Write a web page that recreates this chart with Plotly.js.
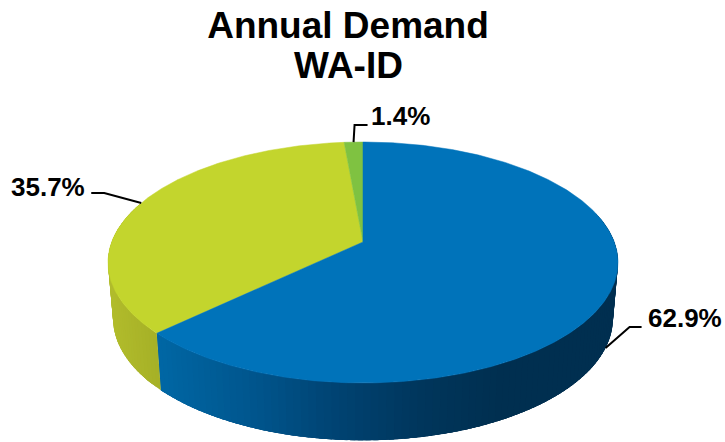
<!DOCTYPE html>
<html><head><meta charset="utf-8">
<script src="https://cdn.plot.ly/plotly-3.0.1.min.js"></script>
<style>html,body{margin:0;padding:0;background:#fff}</style></head>
<body><div id="chart" style="width:725px;height:442px"></div>
<script>
const categories = ["WA", "ID", "Other"];
const shares = [62.9, 35.7, 1.4];
const labels = ["62.9%", "35.7%", "1.4%"];
const faceColors = ["#0073ba", "#c3d52d", "#7fc241"];
const wallStops = [
  [[150,[0,104,166]],[250,[0,86,142]],[330,[0,68,116]],[420,[0,54,92]],[500,[0,47,80]],[620,[0,47,80]]],
  [[105,[178,189,44]],[165,[164,174,38]]],
  [[105,[164,174,38]],[165,[164,174,38]]]
];
const titleLines = ["Annual Demand", "WA-ID"];

// pie projection onto the page's pixel axes
const apex = {x: 363, y: 242}, S = 251.3, A = 117, K = 0.17;
const wallDrop = 56, wallSX = 0.98, wallSY = 1.01;
function topPt(aDeg){
  const a = aDeg*Math.PI/180, u = Math.sin(a), v = Math.cos(a), d = 1 + K*v;
  return [apex.x + S*u/d, apex.y - A*v/d];
}
function bottomPt(aDeg){
  const p = topPt(aDeg);
  return [apex.x + (p[0]-apex.x)*wallSX, apex.y + wallDrop + (p[1]-apex.y)*wallSY];
}
function wallColor(stops, x){
  if (x <= stops[0][0]) return `rgb(${stops[0][1].join(",")})`;
  for (let i=1;i<stops.length;i++){
    if (x <= stops[i][0]){
      const t=(x-stops[i-1][0])/(stops[i][0]-stops[i-1][0]);
      return `rgb(${stops[i-1][1].map((c,k)=>Math.round(c+(stops[i][1][k]-c)*t)).join(",")})`;
    }
  }
  return `rgb(${stops[stops.length-1][1].join(",")})`;
}
const total = shares.reduce((a,b)=>a+b,0);
let acc = 0;
const spans = shares.map(s=>{const r=[acc/total*360,(acc+s)/total*360];acc+=s;return r;});

const traces = [];
// side walls: overlapping strips painted so that the blue goes from dark to light,
// each strip running under the next so no seams show
const arcStart = 75, arcEnd = 290, stripStep = 1.5, stripReach = 4;
spans.forEach((sp,i)=>{
  const from = Math.max(sp[0],arcStart), to = Math.min(sp[1],arcEnd);
  for (let a=from; a<to; a+=stripStep){
    const b = Math.min(a+stripStep+stripReach,to);
    const xs=[],ys=[],xb=[],yb=[];
    for (let t=a;;t=Math.min(t+0.5,b)){
      const p=topPt(t),q=bottomPt(t);
      xs.push(p[0]);ys.push(p[1]);xb.unshift(q[0]);yb.unshift(q[1]);
      if (t>=b) break;
    }
    const col = wallColor(wallStops[i],topPt(a+stripStep/2)[0]);
    traces.push({type:"scatter",mode:"lines",fill:"toself",fillcolor:col,
      x:xs.concat(xb,[xs[0]]),y:ys.concat(yb,[ys[0]]),
      line:{width:0},hoverinfo:"skip",showlegend:false});
  }
});
// top faces
[1,2,0].forEach(i=>{
  const sp=spans[i], xs=[apex.x], ys=[apex.y];
  for (let a=sp[0]; a<sp[1]; a+=0.5){const p=topPt(a);xs.push(p[0]);ys.push(p[1]);}
  const e=topPt(sp[1]);xs.push(e[0],apex.x);ys.push(e[1],apex.y);
  traces.push({type:"scatter",mode:"lines",fill:"toself",fillcolor:faceColors[i],
    x:xs,y:ys,line:{color:faceColors[i],width:0.5},name:categories[i],hoverinfo:"name",showlegend:false});
});
// leader lines, from each slice's mid angle to its label
const leaderLegs = [[[24,-21],[36,-21]],[[-37,-10],[-50,-10]],[[1,-17],[14,-17]]];
const labelAt = [[648,318],[11,187],[371,116]];
spans.forEach((sp,i)=>{
  const mid=(sp[0]+sp[1])/2;
  const o = i===0 ? bottomPt(mid) : topPt(mid);
  traces.push({type:"scatter",mode:"lines",
    x:[o[0],o[0]+leaderLegs[i][0][0],o[0]+leaderLegs[i][1][0]],
    y:[o[1],o[1]+leaderLegs[i][0][1],o[1]+leaderLegs[i][1][1]],
    line:{color:"#000",width:2},hoverinfo:"skip",showlegend:false});
});
const font = {family:'"Liberation Sans", Arial, sans-serif',color:"#000"};
const annotations = labels.map((t,i)=>({text:"<b>"+t+"</b>",x:labelAt[i][0],y:labelAt[i][1],xref:"x",yref:"y",
  xanchor:"left",yanchor:"middle",showarrow:false,xshift:-2,font:{...font,size:26}}));
annotations.push({text:"<b>"+titleLines[1]+"</b>",x:348,y:65,xref:"x",yref:"y",xanchor:"center",yanchor:"middle",
  showarrow:false,font:{...font,size:37}});
const layout = {
  width:725,height:442,margin:{l:0,r:0,t:0,b:0},paper_bgcolor:"#fff",plot_bgcolor:"#fff",showlegend:false,
  title:{text:"<b>"+titleLines[0]+"</b>",x:348/725,xanchor:"center",y:1-25/442,yanchor:"middle",font:{...font,size:37}},
  xaxis:{range:[0,725],visible:false,fixedrange:true},
  yaxis:{range:[442,0],visible:false,fixedrange:true},
  annotations
};
Plotly.newPlot("chart",traces,layout,{displayModeBar:false,staticPlot:true});
</script></body></html>
